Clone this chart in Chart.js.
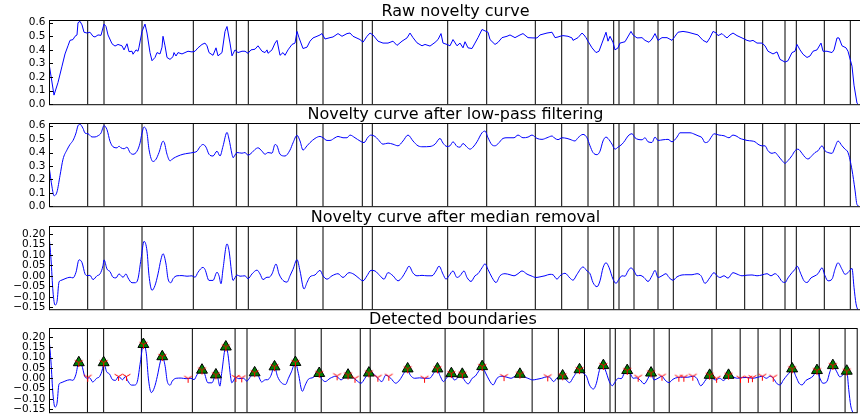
<!DOCTYPE html>
<html>
<head>
<meta charset="utf-8">
<script src="https://cdn.jsdelivr.net/npm/chart.js@4/dist/chart.umd.min.js"></script>
<style>
  html, body { margin: 0; padding: 0; background: #fff; overflow: hidden; }
  #wrap { position: relative; width: 860px; height: 416px; overflow: hidden; }
  #wrap canvas { position: absolute; left: 0; }
</style>
</head>
<body>
<div id="wrap">
  <canvas id="raw"></canvas>
  <canvas id="smooth"></canvas>
  <canvas id="resid"></canvas>
  <canvas id="bounds"></canvas>
</div>
<script>
// frame index of every annotated boundary (vertical lines)
const boundaryFrames = [38.7, 55, 93, 144.3, 187.3, 199.3, 247.7, 274, 313.3, 323.3, 398.7, 437.7,
  486.3, 512.7, 539, 564.7, 570, 585, 609, 624.3, 667.3, 695.7, 713.7, 736, 747.3, 775.3, 801.3];

// raw novelty curve
const rawX = [0, 5, 9, 13, 16, 19, 21, 24, 26, 28, 29, 31, 33, 35, 38, 41, 44, 46, 49, 52, 55, 57, 59,
  63, 66, 69, 73, 75, 78, 80, 83, 84, 87, 89, 90, 93, 96, 98, 101, 103, 106, 108, 111, 113, 114, 116,
  118, 121, 124, 125, 127, 129, 133, 136, 139, 143, 146, 149, 153, 156, 158, 160, 164, 167, 169, 173,
  176, 178, 181, 183, 186, 189, 193, 196, 199, 202, 206, 209, 213, 216, 218, 219, 223, 226, 228, 231,
  234, 236, 239, 243, 246, 248, 250, 254, 258, 261, 264, 268, 271, 273, 276, 281, 284, 289, 293, 298,
  301, 304, 311, 314, 318, 321, 324, 329, 334, 339, 344, 348, 353, 358, 361, 364, 368, 373, 376, 381,
  386, 389, 392, 394, 398, 401, 404, 408, 411, 414, 416, 419, 423, 426, 429, 433, 436, 439, 441, 446,
  449, 453, 458, 461, 466, 471, 474, 479, 484, 488, 491, 498, 503, 506, 509, 511, 514, 519, 523, 524,
  529, 533, 535, 537, 539, 543, 547, 550, 553, 557, 559, 561, 564, 566, 569, 571, 576, 582, 584, 588,
  593, 596, 600, 603, 606, 609, 613, 618, 623, 626, 629, 634, 639, 644, 649, 654, 658, 661, 664, 667,
  669, 673, 675, 678, 681, 684, 688, 693, 698, 701, 704, 708, 713, 716, 719, 724, 728, 731, 736, 739,
  743, 746, 748, 751, 754, 758, 761, 764, 768, 772, 774, 778, 783, 785, 788, 790, 793, 797, 799, 803,
  805, 808, 809];
const rawY = [0.30, 0.067, 0.16, 0.28, 0.37, 0.43, 0.47, 0.476, 0.50, 0.51, 0.60, 0.61, 0.584, 0.53,
  0.524, 0.53, 0.50, 0.495, 0.51, 0.507, 0.59, 0.572, 0.51, 0.445, 0.428, 0.44, 0.43, 0.40, 0.445,
  0.387, 0.39, 0.368, 0.40, 0.39, 0.42, 0.536, 0.59, 0.524, 0.38, 0.32, 0.344, 0.38, 0.37, 0.42, 0.50,
  0.43, 0.344, 0.33, 0.35, 0.38, 0.355, 0.38, 0.37, 0.38, 0.39, 0.385, 0.39, 0.415, 0.44, 0.45, 0.43,
  0.38, 0.36, 0.415, 0.356, 0.38, 0.536, 0.572, 0.45, 0.356, 0.40, 0.38, 0.39, 0.39, 0.375, 0.40,
  0.405, 0.43, 0.39, 0.38, 0.40, 0.375, 0.40, 0.45, 0.47, 0.36, 0.38, 0.36, 0.40, 0.44, 0.45, 0.536,
  0.49, 0.41, 0.42, 0.464, 0.488, 0.50, 0.51, 0.52, 0.48, 0.49, 0.495, 0.52, 0.50, 0.52, 0.524, 0.50,
  0.476, 0.456, 0.50, 0.524, 0.51, 0.464, 0.45, 0.45, 0.464, 0.433, 0.464, 0.488, 0.524, 0.49, 0.452,
  0.43, 0.44, 0.428, 0.455, 0.476, 0.52, 0.45, 0.44, 0.43, 0.476, 0.43, 0.45, 0.415, 0.46, 0.415,
  0.41, 0.45, 0.49, 0.55, 0.54, 0.53, 0.476, 0.44, 0.455, 0.49, 0.50, 0.51, 0.49, 0.51, 0.52, 0.49,
  0.488, 0.488, 0.51, 0.524, 0.53, 0.49, 0.495, 0.50, 0.505, 0.50, 0.488, 0.47, 0.49, 0.524, 0.51,
  0.49, 0.464, 0.415, 0.38, 0.39, 0.45, 0.53, 0.464, 0.50, 0.456, 0.40, 0.415, 0.45, 0.46, 0.536,
  0.51, 0.488, 0.49, 0.47, 0.456, 0.48, 0.52, 0.47, 0.49, 0.49, 0.47, 0.50, 0.53, 0.536, 0.53, 0.52,
  0.51, 0.47, 0.455, 0.49, 0.536, 0.525, 0.505, 0.52, 0.505, 0.488, 0.51, 0.524, 0.505, 0.488, 0.47,
  0.464, 0.47, 0.45, 0.45, 0.43, 0.39, 0.37, 0.385, 0.33, 0.31, 0.32, 0.38, 0.39, 0.44, 0.40, 0.368,
  0.344, 0.355, 0.39, 0.40, 0.45, 0.39, 0.39, 0.38, 0.40, 0.488, 0.488, 0.43, 0.415, 0.39, 0.28, 0.14,
  0.007, 0];

// after low-pass filtering
const smoothX = [0, 3, 5, 8, 11, 14, 18, 21, 24, 27, 29, 31, 34, 36, 39, 43, 46, 49, 52, 55, 58, 61,
  64, 68, 70, 72, 75, 78, 81, 84, 88, 91, 93, 95, 98, 100, 104, 107, 110, 114, 115, 118, 121, 124,
  129, 134, 139, 144, 148, 151, 154, 157, 160, 164, 168, 171, 174, 178, 180, 183, 184, 188, 193, 196,
  199, 203, 206, 209, 213, 216, 219, 223, 226, 228, 231, 236, 241, 244, 248, 251, 254, 258, 261, 266,
  271, 274, 278, 281, 286, 289, 294, 298, 301, 306, 311, 315, 319, 322, 326, 329, 334, 339, 344, 349,
  354, 359, 364, 369, 374, 381, 386, 391, 394, 398, 401, 404, 408, 411, 414, 418, 421, 424, 428, 433,
  436, 439, 443, 446, 449, 454, 458, 461, 465, 469, 474, 479, 483, 488, 493, 498, 503, 506, 509, 513,
  518, 521, 526, 529, 534, 538, 541, 544, 548, 551, 554, 557, 559, 563, 566, 569, 573, 576, 579, 583,
  586, 589, 593, 596, 599, 603, 606, 609, 614, 619, 623, 628, 631, 636, 641, 646, 649, 653, 656, 659,
  663, 665, 670, 675, 680, 684, 688, 691, 694, 698, 703, 706, 709, 713, 716, 719, 723, 726, 729, 733,
  736, 739, 743, 746, 749, 753, 756, 759, 763, 766, 769, 773, 776, 779, 783, 786, 789, 793, 796, 799,
  803, 806, 808, 810];
const smoothY = [0.30, 0.144, 0.078, 0.107, 0.228, 0.35, 0.42, 0.46, 0.49, 0.545, 0.60, 0.61, 0.58,
  0.545, 0.54, 0.516, 0.516, 0.525, 0.545, 0.60, 0.57, 0.484, 0.443, 0.435, 0.447, 0.435, 0.428, 0.44,
  0.40, 0.387, 0.41, 0.47, 0.545, 0.59, 0.545, 0.423, 0.333, 0.35, 0.40, 0.484, 0.48, 0.387, 0.338,
  0.355, 0.374, 0.387, 0.394, 0.40, 0.41, 0.443, 0.46, 0.44, 0.387, 0.374, 0.41, 0.374, 0.447, 0.55,
  0.50, 0.387, 0.362, 0.40, 0.395, 0.40, 0.38, 0.40, 0.423, 0.435, 0.41, 0.387, 0.40, 0.395, 0.46,
  0.45, 0.387, 0.374, 0.418, 0.472, 0.528, 0.486, 0.418, 0.45, 0.474, 0.505, 0.52, 0.51, 0.49, 0.49,
  0.51, 0.52, 0.51, 0.51, 0.53, 0.51, 0.486, 0.474, 0.515, 0.53, 0.52, 0.498, 0.462, 0.47, 0.462,
  0.45, 0.486, 0.53, 0.486, 0.45, 0.443, 0.445, 0.462, 0.505, 0.47, 0.445, 0.45, 0.48, 0.445, 0.44,
  0.467, 0.44, 0.425, 0.44, 0.48, 0.547, 0.56, 0.51, 0.457, 0.45, 0.465, 0.505, 0.51, 0.51, 0.51,
  0.53, 0.51, 0.515, 0.53, 0.505, 0.498, 0.51, 0.523, 0.505, 0.496, 0.51, 0.505, 0.498, 0.486, 0.51,
  0.535, 0.51, 0.45, 0.40, 0.384, 0.41, 0.486, 0.515, 0.505, 0.462, 0.425, 0.44, 0.462, 0.49, 0.523,
  0.54, 0.51, 0.498, 0.495, 0.51, 0.48, 0.475, 0.515, 0.49, 0.495, 0.498, 0.48, 0.515, 0.547, 0.547,
  0.547, 0.535, 0.525, 0.51, 0.474, 0.48, 0.523, 0.54, 0.53, 0.525, 0.51, 0.53, 0.52, 0.505, 0.498,
  0.49, 0.486, 0.48, 0.462, 0.45, 0.45, 0.413, 0.394, 0.40, 0.377, 0.34, 0.32, 0.34, 0.377, 0.413,
  0.425, 0.394, 0.365, 0.352, 0.377, 0.40, 0.413, 0.45, 0.413, 0.40, 0.394, 0.44, 0.486, 0.45, 0.425,
  0.40, 0.27, 0.12, 0.012, 0];

// after median removal (also the curve under the detected boundaries)
const residX = [0, 2, 4, 6, 8, 10, 12, 16, 21, 24, 27, 30, 33, 36, 38, 41, 44, 48, 51, 54, 55, 58, 61,
  64, 67, 70, 74, 77, 79, 83, 86, 89, 92, 95, 98, 100, 103, 106, 109, 112, 114, 117, 119, 122, 124,
  128, 133, 138, 143, 146, 149, 154, 156, 160, 164, 168, 170, 172, 174, 178, 180, 183, 184, 188, 191,
  196, 199, 203, 208, 211, 214, 218, 220, 223, 227, 230, 234, 238, 241, 244, 248, 251, 255, 258, 261,
  266, 271, 274, 278, 283, 289, 294, 300, 305, 309, 314, 318, 322, 326, 331, 335, 339, 344, 349, 353,
  357, 360, 364, 368, 373, 378, 383, 387, 390, 394, 397, 400, 404, 408, 411, 415, 418, 422, 426, 429,
  433, 436, 439, 443, 447, 451, 456, 461, 465, 469, 473, 478, 482, 487, 491, 496, 501, 504, 508, 511,
  516, 521, 524, 528, 534, 538, 541, 544, 548, 551, 554, 557, 560, 564, 567, 570, 573, 576, 579, 582,
  585, 588, 591, 595, 599, 603, 606, 609, 613, 617, 620, 624, 628, 633, 638, 643, 648, 652, 656, 661,
  665, 668, 671, 675, 679, 684, 688, 693, 698, 703, 708, 713, 718, 722, 726, 729, 733, 736, 739, 743,
  746, 748, 752, 755, 758, 762, 766, 769, 773, 776, 779, 783, 786, 789, 793, 796, 799, 803, 805, 807,
  809];
const residY = [0.195, 0.079, -0.077, -0.139, -0.123, -0.03, -0.022, -0.014, -0.007, -0.01, 0.017,
  0.076, 0.063, 0.009, 0.001, 0.002, -0.018, 0, 0.009, 0.048, 0.076, 0.032, 0.02, -0.007, -0.01, 0.009,
  -0.007, 0.009, -0.01, -0.033, -0.033, -0.014, 0.079, 0.164, 0.118, 0.001, -0.069, -0.046, 0.009,
  0.079, 0.105, 0.056, -0.014, -0.033, -0.014, 0, 0.001, -0.002, 0, -0.007, 0.017, 0.04, 0.03, -0.022,
  -0.022, 0.017, 0, -0.038, 0.032, 0.152, 0.12, 0, -0.022, 0.004, -0.002, 0, -0.014, 0.009, 0.027,
  0.009, -0.018, -0.007, -0.007, 0.009, 0.056, 0.009, -0.022, -0.03, 0, 0.031, 0.077, 0.023, -0.063,
  -0.032, -0.005, 0.004, 0.026, 0, -0.016, 0, 0.01, -0.008, 0.015, 0.007, -0.008, -0.024, 0, 0.026,
  0.023, 0, -0.016, 0.015, 0, -0.024, -0.008, 0.023, 0.046, 0.013, 0, 0.002, 0, 0, 0.023, 0.046,
  0.008, -0.016, 0, 0.023, -0.008, 0, 0.023, -0.008, -0.027, 0, 0.01, 0.038, 0.057, 0.03, -0.008,
  -0.032, 0, 0.01, 0.005, 0, 0.01, 0.023, 0.008, 0, -0.008, -0.005, 0, 0.007, 0.005, -0.016, 0, 0.012,
  -0.011, -0.021, 0.007, 0.042, 0.023, 0.01, -0.032, -0.052, -0.024, 0.038, 0.062, 0.04, -0.016,
  -0.036, -0.016, 0, -0.002, 0.023, 0.038, 0.023, 0, 0.002, -0.008, -0.027, 0, 0.026, -0.008, 0, 0.01,
  -0.008, -0.021, -0.005, 0.004, 0.005, 0.005, 0.01, 0, -0.036, -0.008, 0.015, 0, -0.008, 0, -0.011,
  0.015, 0.008, 0, 0.003, 0.004, 0, 0.004, 0.01, 0, 0.01, 0, -0.027, -0.032, -0.01, 0.015, 0.031,
  0.046, 0.007, -0.024, -0.032, -0.01, 0, 0.01, 0.038, 0, -0.024, -0.016, 0.031, 0.062, 0.031, 0.007,
  0.015, 0.035, -0.055, -0.133, -0.165];

// selected peaks (detected boundaries)
const peakX = [30, 55, 95, 114, 154, 168, 178, 207, 227, 248, 272, 301, 322, 361, 391, 405, 416, 436,
  474, 517, 534, 558, 582, 606, 665, 684, 748, 773, 789, 803];
const peakY = [0.076, 0.076, 0.164, 0.105, 0.04, 0.017, 0.152, 0.027, 0.056, 0.077, 0.024, 0.016,
  0.026, 0.046, 0.046, 0.023, 0.02, 0.057, 0.02, 0.012, 0.042, 0.062, 0.038, 0.026, 0.015, 0.015,
  0.046, 0.038, 0.062, 0.035];

// rejected local maxima
const candX = [39, 70, 78, 140, 188, 194, 290, 308, 331, 342, 378, 458, 502, 593, 617, 634, 639, 648,
  672, 696, 704, 708, 718, 729];
const candY = [0.005, 0.009, 0.009, 0, 0.004, 0.002, 0.012, 0, 0.005, 0.01, 0, 0.008, 0.007, 0.005,
  0.01, 0.005, 0.005, 0.01, 0, 0, 0, 0.003, 0.01, 0.005];

const rawTicks = [0, 0.1, 0.2, 0.3, 0.4, 0.5, 0.6];
const residTicks = [-0.15, -0.1, -0.05, 0, 0.05, 0.1, 0.15, 0.2];

const FONT = "'DejaVu Sans', sans-serif";
const FRAMES = 813;

function pts(xs, ys) {
  return xs.map((x, i) => ({ x: x, y: ys[i] }));
}

function fmt(v, d) {
  const s = Math.abs(v).toFixed(d);
  return v < -1e-9 ? '\u2212' + s : s;
}

// little red "tri_down" glyph for local maxima
function triDown(size, color) {
  const c = document.createElement('canvas');
  c.width = size; c.height = size;
  const g = c.getContext('2d');
  const m = size / 2, r = size / 2 - 1;
  g.strokeStyle = color;
  g.lineWidth = 1;
  g.beginPath();
  g.moveTo(m, m); g.lineTo(m, m + r);
  g.moveTo(m, m); g.lineTo(m - r * 0.87, m - r * 0.5);
  g.moveTo(m, m); g.lineTo(m + r * 0.87, m - r * 0.5);
  g.stroke();
  return c;
}

const axesDecor = {
  id: 'axesDecor',
  beforeDatasetsDraw(chart) {
    const { ctx, chartArea: a, scales } = chart;
    ctx.save();
    ctx.strokeStyle = '#000';
    ctx.lineWidth = 1;
    boundaryFrames.forEach(f => {
      const x = scales.x.getPixelForValue(f);
      ctx.beginPath();
      ctx.moveTo(x, a.top);
      ctx.lineTo(x, a.bottom);
      ctx.stroke();
    });
    ctx.restore();
  },
  afterDraw(chart) {
    const { ctx, chartArea: a, scales } = chart;
    ctx.save();
    ctx.strokeStyle = '#000';
    ctx.lineWidth = 1;
    ctx.strokeRect(a.left + 0.5, a.top + 0.5, a.right - a.left, a.bottom - a.top);
    ctx.beginPath();
    scales.y.ticks.forEach(t => {
      const y = Math.round(scales.y.getPixelForValue(t.value)) + 0.5;
      ctx.moveTo(a.left, y);
      ctx.lineTo(a.left + 4, y);
    });
    ctx.stroke();
    ctx.restore();
  }
};

function panel(id, top, bottom, title, min, max, ticks, dec, datasets) {
  const cv = document.getElementById(id);
  const h = bottom - top + 28;
  cv.width = 864;
  cv.height = h;
  cv.style.top = (top - 20) + 'px';
  return new Chart(cv, {
    type: 'line',
    data: { datasets: datasets },
    options: {
      responsive: false,
      animation: false,
      devicePixelRatio: 1,
      layout: { padding: { top: 0, right: 2, bottom: 8, left: 0 } },
      plugins: {
        legend: { display: false },
        tooltip: { enabled: false },
        title: {
          display: true,
          text: title,
          fullSize: false,
          color: '#000',
          font: { family: FONT, size: 16, weight: 'normal', lineHeight: 1 },
          padding: { top: 3.8, bottom: 0.2 }
        }
      },
      scales: {
        x: { type: 'linear', min: 0, max: FRAMES, display: false },
        y: {
          min: min,
          max: max,
          afterFit: s => { s.width = 49; },
          afterBuildTicks: s => { s.ticks = ticks.map(v => ({ value: v })); },
          grid: { display: false, drawTicks: false },
          border: { display: false },
          ticks: {
            autoSkip: false,
            color: '#000',
            padding: 3.5,
            font: { family: FONT, size: 10.5 },
            callback: v => fmt(v, dec)
          }
        }
      }
    },
    plugins: [axesDecor]
  });
}

function curve(xs, ys, smooth) {
  return {
    data: pts(xs, ys),
    borderColor: '#0000ff',
    borderWidth: 1,
    pointRadius: 0,
    cubicInterpolationMode: smooth ? 'monotone' : 'default',
    tension: 0
  };
}

panel('raw', 20, 106, 'Raw novelty curve', 0, 0.62, rawTicks, 1, [curve(rawX, rawY, false)]);
panel('smooth', 123, 208, 'Novelty curve after low-pass filtering', 0, 0.62, rawTicks, 1,
  [curve(smoothX, smoothY, true)]);
panel('resid', 226, 311, 'Novelty curve after median removal', -0.159, 0.237, residTicks, 2,
  [curve(residX, residY, true)]);
panel('bounds', 328, 414, 'Detected boundaries', -0.164, 0.243, residTicks, 2, [
  {
    data: pts(candX.concat(peakX), candY.concat(peakY)),
    showLine: false,
    pointStyle: triDown(11, '#ff0000'),
    pointRadius: 5
  },
  {
    data: pts(peakX, peakY),
    showLine: false,
    pointStyle: 'triangle',
    pointRadius: 6.3,
    backgroundColor: '#008000',
    borderColor: '#000',
    pointBorderWidth: 1
  },
  curve(residX, residY, true)
]);
</script>
</body>
</html>
